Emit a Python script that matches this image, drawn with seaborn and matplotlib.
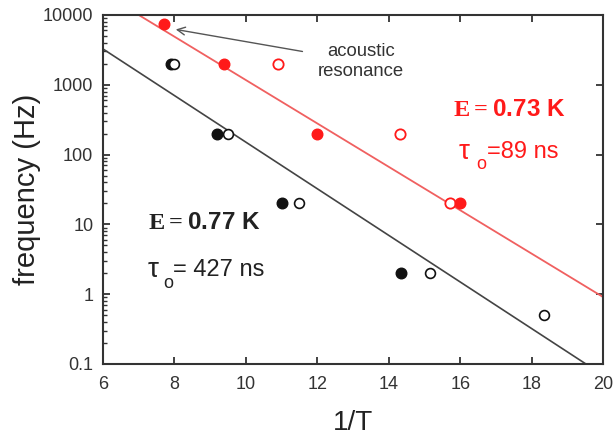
import numpy as np
import matplotlib
matplotlib.use("Agg")
import matplotlib.pyplot as plt
import seaborn as sns

# Measured relaxation peaks: inverse temperature vs. frequency
red_filled_x = [7.7, 9.4, 12.0, 16.0]
red_filled_f = [7500, 2000, 200, 20]
red_open_x = [10.9, 14.3, 15.7]
red_open_f = [2000, 200, 20]

black_filled_x = [7.9, 9.2, 11.0, 14.35]
black_filled_f = [2000, 200, 20, 2]
black_open_x = [8.0, 9.5, 11.5, 15.15, 18.35]
black_open_f = [2000, 200, 20, 2, 0.5]

# Arrhenius fits: log10(f) = intercept - slope * (1/T)
red_fit = (6.177, 0.311)
black_fit = (5.517, 0.334)

x_ticks = [6, 8, 10, 12, 14, 16, 18, 20]
y_ticks = [0.1, 1, 10, 100, 1000, 10000]
y_tick_labels = ["0.1", "1", "10", "100", "1000", "10000"]

RED = "#ff1a1a"
RED_LINE = "#f06060"
BLACK = "#111111"
AXIS = "#333333"

sns.set_theme(style="ticks")
plt.rcParams["font.family"] = ["Liberation Sans", "DejaVu Sans"]
plt.rcParams["mathtext.fontset"] = "custom"
plt.rcParams["mathtext.rm"] = "Liberation Sans"
plt.rcParams["mathtext.bf"] = "Liberation Serif:bold"

fig = plt.figure(figsize=(6.13, 4.4), dpi=100)
ax = fig.add_axes([0.168, 0.173, 0.816, 0.793])

# Fit lines
xs = np.linspace(6, 20, 200)
sns.lineplot(x=xs, y=10 ** (black_fit[0] - black_fit[1] * xs), ax=ax,
             color="#444444", linewidth=1.2, zorder=2)
sns.lineplot(x=xs, y=10 ** (red_fit[0] - red_fit[1] * xs), ax=ax,
             color=RED_LINE, linewidth=1.3, zorder=2)

# Data points
sns.scatterplot(x=red_open_x, y=red_open_f, ax=ax, color="white",
                edgecolor=RED, linewidth=1.3, s=55, zorder=3)
sns.scatterplot(x=red_filled_x, y=red_filled_f, ax=ax, color=RED,
                edgecolor=RED, linewidth=1.0, s=58, zorder=4)
sns.scatterplot(x=black_filled_x, y=black_filled_f, ax=ax, color=BLACK,
                edgecolor=BLACK, linewidth=1.0, s=58, zorder=3)
sns.scatterplot(x=black_open_x, y=black_open_f, ax=ax, color="white",
                edgecolor=BLACK, linewidth=1.2, s=50, zorder=4)

ax.set_yscale("log")
ax.set_xlim(6, 20)
ax.set_ylim(0.1, 10000)
ax.set_xticks(x_ticks)
ax.set_xticklabels([str(t) for t in x_ticks])
ax.set_yticks(y_ticks)
ax.set_yticklabels(y_tick_labels)
ax.yaxis.set_minor_locator(matplotlib.ticker.LogLocator(base=10, subs=np.arange(2, 10)))
ax.yaxis.set_minor_formatter(matplotlib.ticker.NullFormatter())

for side in ["left", "right", "top", "bottom"]:
    ax.spines[side].set_visible(True)
    ax.spines[side].set_color(AXIS)
    ax.spines[side].set_linewidth(1.5)

ax.tick_params(axis="both", which="major", direction="in", length=5, width=1.3,
               colors=AXIS, labelsize=13, top=True, right=True, pad=7)
ax.tick_params(axis="x", which="major", pad=9)
ax.tick_params(axis="y", which="minor", direction="in", length=3, width=1.0,
               colors=AXIS, left=True, right=False)
ax.tick_params(axis="x", which="minor", bottom=False, top=False)
for lab in ax.get_xticklabels() + ax.get_yticklabels():
    lab.set_color("#333333")

ax.set_xlabel("1/T", fontsize=20, color="#222222", labelpad=12)
ax.set_ylabel("frequency (Hz)", fontsize=21, color="#222222", labelpad=1)

# Arrow pointing to the acoustic resonance point
ax.annotate("", xy=(7.96, 6300), xytext=(11.66, 2950),
            arrowprops=dict(arrowstyle="->", color="#555555", lw=1.0,
                            mutation_scale=14), zorder=5)
ax.text(13.23, 2150, "acoustic\nresonance", ha="center", va="center",
        fontsize=13.3, color="#333333", linespacing=1.3)


def fit_label(x, y_energy, y_tau, energy, tau, color, tau_dx, o_dx, rest_dx):
    ax.text(x, y_energy, r"$\mathbf{E=}$" + energy, fontsize=17.5,
            fontweight="bold", color=color, ha="left", va="center")
    ax.annotate("τ", xy=(x, y_tau), xytext=(tau_dx, 0), textcoords="offset points",
                fontsize=20, color=color, ha="left", va="center")
    ax.annotate("o", xy=(x, y_tau), xytext=(o_dx, -9.5), textcoords="offset points",
                fontsize=13, color=color, ha="left", va="center")
    ax.annotate(tau, xy=(x, y_tau), xytext=(rest_dx, 0), textcoords="offset points",
                fontsize=17, color=color, ha="left", va="center")


# Fit parameters for each series
fit_label(15.8, 445, 110, "0.73 K", "=89 ns", RED, 4.0, 16.3, 24.5)
fit_label(7.26, 10.5, 2.2, "0.77 K", "= 427 ns", "#222222", 0.0, 10.8, 18.0)

fig.savefig("out.png", dpi=100)
